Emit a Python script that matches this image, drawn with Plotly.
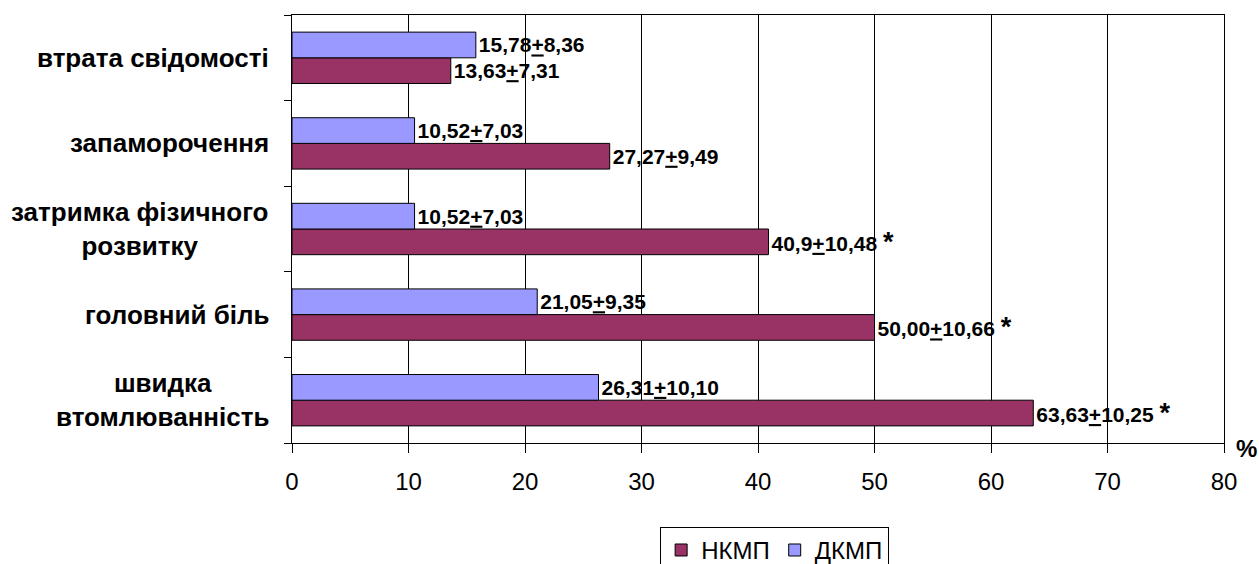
import plotly.graph_objects as go

# Symptoms, listed bottom-to-top
categories = [
    "швидка втомлюванність",
    "головний біль",
    "затримка фізичного розвитку",
    "запаморочення",
    "втрата свідомості",
]
# Captions as drawn left of the axis
category_labels = [
    "швидка<br>втомлюванність",
    "головний біль",
    "затримка фізичного<br>розвитку",
    "запаморочення",
    "втрата свідомості",
]

nkmp_values = [63.63, 50.00, 40.9, 27.27, 13.63]
nkmp_errors = ["10,25", "10,66", "10,48", "9,49", "7,31"]
nkmp_value_text = ["63,63", "50,00", "40,9", "27,27", "13,63"]
nkmp_significant = [True, True, True, False, False]

dkmp_values = [26.31, 21.05, 10.52, 10.52, 15.78]
dkmp_errors = ["10,10", "9,35", "7,03", "7,03", "8,36"]
dkmp_value_text = ["26,31", "21,05", "10,52", "10,52", "15,78"]

x_ticks = [0, 10, 20, 30, 40, 50, 60, 70, 80]

FONT = "Arial, Liberation Sans, sans-serif"
LABEL_SIZE = 26


def label(v, e, star=False):
    s = f"{v}<u>+</u>{e}"
    if star:
        s += " <span style='font-size:27px'>*</span>"
    return s


nkmp_text = [label(v, e, s) for v, e, s in zip(nkmp_value_text, nkmp_errors, nkmp_significant)]
dkmp_text = [label(v, e) for v, e in zip(dkmp_value_text, dkmp_errors)]

fig = go.Figure()
fig.add_trace(go.Bar(
    name="НКМП", y=categories, x=nkmp_values, orientation="h",
    marker=dict(color="#993366", line=dict(color="black", width=1)),
    text=nkmp_text, textposition="outside", cliponaxis=False,
    constraintext="none",
    textfont=dict(family=FONT, size=21, color="black", weight="bold"),
))
fig.add_trace(go.Bar(
    name="ДКМП", y=categories, x=dkmp_values, orientation="h",
    marker=dict(color="#9999FF", line=dict(color="black", width=1)),
    text=dkmp_text, textposition="outside", cliponaxis=False,
    constraintext="none",
    textfont=dict(family=FONT, size=21, color="black", weight="bold"),
))

# Category captions left of the axis, lines centred on each other
for cat, lab in zip(categories, category_labels):
    fig.add_annotation(
        x=0, xref="paper", y=cat, yref="y", xanchor="right", yanchor="middle",
        xshift=-21, text=f"<b>{lab}</b>", showarrow=False, align="center",
        font=dict(family=FONT, size=LABEL_SIZE, color="black"),
    )

fig.add_annotation(
    x=1, xref="paper", y=0, yref="paper", xanchor="center", yanchor="middle",
    xshift=22, yshift=-5, text="<b>%</b>", showarrow=False,
    font=dict(family=FONT, size=24, color="black"),
)

fig.update_layout(
    width=1259, height=564,
    margin=dict(l=292, r=35, t=15, b=121, autoexpand=False),
    plot_bgcolor="white", paper_bgcolor="white",
    barmode="group", bargap=0.4, bargroupgap=0,
    font=dict(family=FONT, color="black"),
    showlegend=True,
    legend=dict(
        orientation="h", x=0.395, xanchor="left", y=-0.196, yanchor="top",
        bordercolor="black", borderwidth=1, bgcolor="white",
        font=dict(family=FONT, size=24, color="black"),
        itemwidth=30, tracegroupgap=0,
    ),
    xaxis=dict(
        range=[0, 80], tickvals=x_ticks, ticktext=[str(t) for t in x_ticks],
        showgrid=True, gridcolor="black", gridwidth=1,
        showline=True, linecolor="black", linewidth=1, mirror=True,
        ticks="outside", ticklen=9, tickcolor="black",
        ticklabelstandoff=8,
        tickfont=dict(family=FONT, size=24, color="black"),
        zeroline=False, fixedrange=True,
    ),
    yaxis=dict(
        categoryorder="array", categoryarray=categories,
        showticklabels=False, tickson="boundaries",
        ticks="outside", ticklen=7, tickcolor="black",
        showline=True, linecolor="black", linewidth=1, mirror=True,
        showgrid=False, zeroline=False, fixedrange=True,
    ),
)

fig.write_html("out.html")
